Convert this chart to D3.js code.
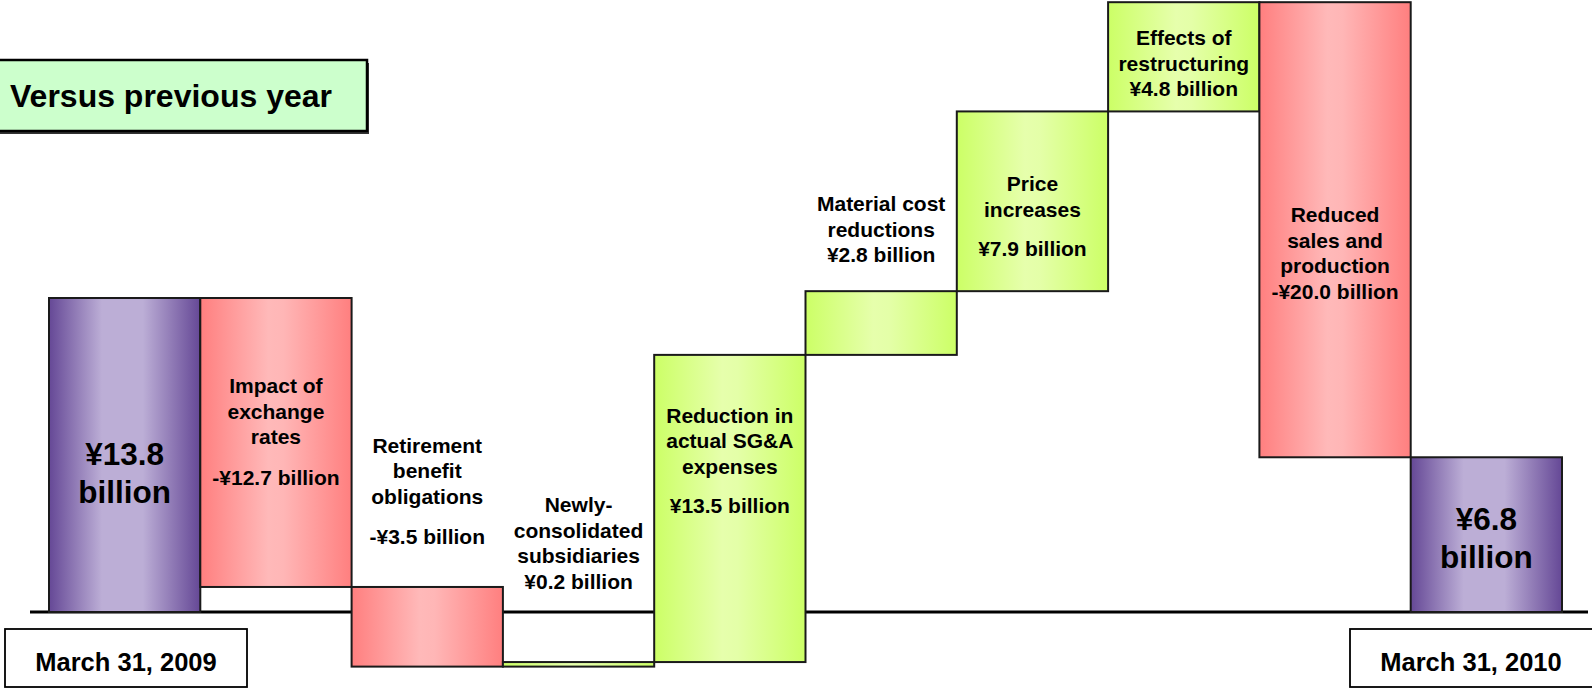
<!DOCTYPE html>
<html>
<head>
<meta charset="utf-8">
<script src="https://cdn.jsdelivr.net/npm/d3@7"></script>
<style>
  html, body { margin: 0; padding: 0; background: #ffffff; }
  svg { display: block; }
  text { font-family: "Liberation Sans", Arial, Helvetica, sans-serif; font-weight: bold; fill: #000; }
</style>
</head>
<body>
<svg id="chart" width="1592" height="689"></svg>
<script>
// Operating income bridge, March 31 2009 -> March 31 2010 (¥ billion)
const categories = ["FY2009", "Exchange rates", "Retirement benefit", "New subsidiaries",
                    "SG&A", "Material cost", "Price", "Restructuring", "Sales and production", "FY2010"];
const values = [13.8, -12.7, -3.5, 0.2, 13.5, 2.8, 7.9, 4.8, -20.0, 6.8];
const kinds = ["total", "delta", "delta", "delta", "delta", "delta", "delta", "delta", "delta", "total"];
const labelLines = [
  ["¥13.8", "billion"],
  ["Impact of", "exchange", "rates", "-¥12.7 billion"],
  ["Retirement", "benefit", "obligations", "-¥3.5 billion"],
  ["Newly-", "consolidated", "subsidiaries", "¥0.2 billion"],
  ["Reduction in", "actual SG&A", "expenses", "¥13.5 billion"],
  ["Material cost", "reductions", "¥2.8 billion"],
  ["Price", "increases", "¥7.9 billion"],
  ["Effects of", "restructuring", "¥4.8 billion"],
  ["Reduced", "sales and", "production", "-¥20.0 billion"],
  ["¥6.8", "billion"]
];
const dateLabels = ["March 31, 2009", "March 31, 2010"];
const headline = "Versus previous year";

// Label layout: offset of the first baseline from the bar top, and extra gap before the value line
const labelOffset = [167, 95, -134, -150, 68, -80, 80, 43, 220, 73];
const valueGap = [0, 15, 15, 0, 14, 0, 14, 0, 0, 0];

// Running totals for the waterfall
let run = 0;
const bars = categories.map((c, i) => {
  let start, end;
  if (kinds[i] === "total") { start = 0; end = values[i]; run = values[i]; }
  else { start = run; end = run + values[i]; run = end; }
  return { cat: c, value: values[i], kind: kinds[i], start, end, lines: labelLines[i], i };
});

const svg = d3.select("#chart");
const x = d3.scaleBand().domain(categories).range([49, 1562]).padding(0);
const y = d3.scaleLinear().domain([0, 13.8]).range([612, 298]);

// Gradients (horizontal shading across each bar)
const defs = svg.append("defs");
const grads = {
  total: [["0%", "#654896"], ["35%", "#bcaed6"], ["62%", "#bcaed6"], ["100%", "#654896"]],
  neg:   [["0%", "#ff7f7f"], ["45%", "#ffb9b9"], ["55%", "#ffb6b6"], ["100%", "#ff7f7f"]],
  pos:   [["0%", "#ccff66"], ["45%", "#e6ffac"], ["55%", "#e4ffa8"], ["100%", "#ccff66"]]
};
Object.entries(grads).forEach(([k, stops]) => {
  const g = defs.append("linearGradient").attr("id", "g-" + k)
    .attr("x1", "0%").attr("x2", "100%").attr("y1", "0%").attr("y2", "0%");
  stops.forEach(s => g.append("stop").attr("offset", s[0]).attr("stop-color", s[1]));
});

// Baseline
svg.append("line")
  .attr("x1", 30).attr("x2", 1588)
  .attr("y1", y(0)).attr("y2", y(0))
  .attr("stroke", "#000").attr("stroke-width", 3);

// Bars
svg.append("g").selectAll("rect").data(bars).join("rect")
  .attr("x", d => x(d.cat))
  .attr("width", x.bandwidth())
  .attr("y", d => y(Math.max(d.start, d.end)))
  .attr("height", d => Math.abs(y(d.start) - y(d.end)))
  .attr("fill", d => d.kind === "total" ? "url(#g-total)" : (d.value < 0 ? "url(#g-neg)" : "url(#g-pos)"))
  .attr("stroke", "#1a1a1a").attr("stroke-width", 2);

// Bar labels
const lbl = svg.append("g").selectAll("text").data(bars).join("text")
  .attr("text-anchor", "middle")
  .attr("font-size", d => d.kind === "total" ? 31.5 : 21);
lbl.each(function(d) {
  const t = d3.select(this);
  const cx = x(d.cat) + x.bandwidth() / 2;
  const top = y(Math.max(d.start, d.end));
  const lh = d.kind === "total" ? 38 : 25.5;
  let yy = top + labelOffset[d.i];
  d.lines.forEach((ln, j) => {
    if (j > 0) yy += lh;
    if (j === d.lines.length - 1 && j > 0) yy += valueGap[d.i];
    t.append("tspan").attr("x", cx).attr("y", yy).text(ln);
  });
});

// Headline box
svg.append("rect").attr("x", -4).attr("y", 63).attr("width", 373).attr("height", 71).attr("fill", "#333");
svg.append("rect").attr("x", -4).attr("y", 60).attr("width", 371).attr("height", 71)
  .attr("fill", "#ccffcc").attr("stroke", "#000").attr("stroke-width", 2.5);
svg.append("text").attr("x", 10).attr("y", 107).attr("font-size", 32).text(headline);

// Date boxes
const dateBoxes = [
  { x: 5, w: 242, text: dateLabels[0] },
  { x: 1350, w: 246, text: dateLabels[1] }
];
const dg = svg.append("g").selectAll("g").data(dateBoxes).join("g");
dg.append("rect").attr("x", d => d.x).attr("y", 629).attr("width", d => d.w).attr("height", 58)
  .attr("fill", "#fff").attr("stroke", "#000").attr("stroke-width", 1.8);
dg.append("text").attr("x", (d, i) => i === 0 ? 126 : 1471).attr("y", 671)
  .attr("text-anchor", "middle").attr("font-size", 25.5).text(d => d.text);
</script>
</body>
</html>
